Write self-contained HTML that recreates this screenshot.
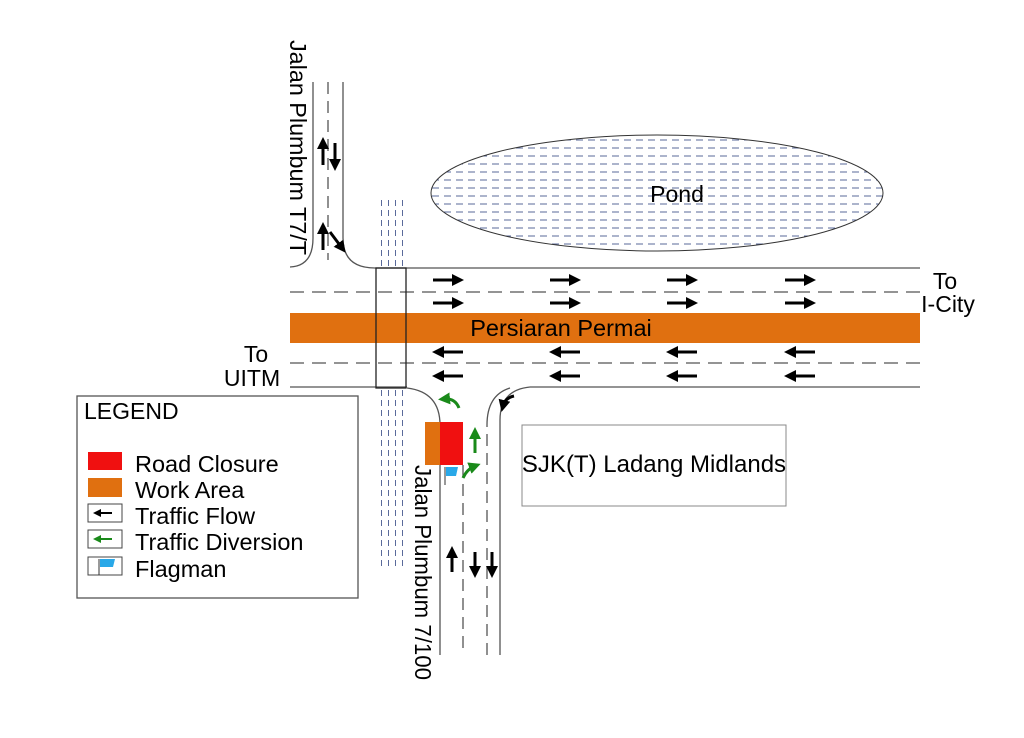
<!DOCTYPE html>
<html><head><style>body{margin:0;background:#fff}svg{display:block}text{font-family:"Liberation Sans",sans-serif}</style></head>
<body>
<svg width="1024" height="738" viewBox="0 0 1024 738" xmlns="http://www.w3.org/2000/svg">
<defs>
<pattern id="hp" width="12" height="8" patternUnits="userSpaceOnUse"><line x1="0" y1="4" x2="7" y2="4" stroke="#5a6a9a" stroke-width="1"/></pattern>
<pattern id="vp" width="7" height="10" patternUnits="userSpaceOnUse"><line x1="3.5" y1="0" x2="3.5" y2="6" stroke="#5a6a9a" stroke-width="1"/></pattern>
<marker id="ah" markerWidth="4" markerHeight="4" refX="2" refY="2" orient="auto" markerUnits="strokeWidth"><path d="M0,0 L4,2 L0,4 z" fill="#000"/></marker>
<marker id="ag" markerWidth="4" markerHeight="4" refX="2" refY="2" orient="auto" markerUnits="strokeWidth"><path d="M0,0 L4,2 L0,4 z" fill="#1a8a1a"/></marker>
</defs>
<ellipse cx="657" cy="193" rx="226" ry="58" fill="url(#hp)" stroke="#333" stroke-width="1"/>
<text x="677" y="202" font-size="23" text-anchor="middle">Pond</text>
<rect x="378" y="198" width="28" height="70" fill="url(#vp)"/>
<rect x="378" y="388" width="28" height="182" fill="url(#vp)"/>
<rect x="290" y="313" width="630" height="30" fill="#e07010"/>
<text x="561" y="336" font-size="23.5" text-anchor="middle">Persiaran Permai</text>
<g stroke="#555" stroke-width="1.3" fill="none">
<line x1="375" y1="268" x2="920" y2="268"/>
<line x1="290" y1="387" x2="407" y2="387"/>
<line x1="530" y1="387" x2="920" y2="387"/>
<line x1="290" y1="292" x2="920" y2="292" stroke-dasharray="14,8"/>
<line x1="290" y1="363" x2="920" y2="363" stroke-dasharray="14,8"/>
<path d="M313 82 V238 Q313 266 290 267"/>
<path d="M343 82 V238 Q343 268 375 268"/>
<line x1="328" y1="82" x2="328" y2="260" stroke-dasharray="12,7"/>
<path d="M407 388 Q440 392 440 425 V655"/>
<line x1="463" y1="465" x2="463" y2="655" stroke-dasharray="12,7"/>
<line x1="487" y1="655" x2="487" y2="425" stroke-dasharray="12,7"/>
<path d="M487 425 Q487 395 510 388"/>
<path d="M500 655 V420 Q500 390 530 387"/>
</g>
<rect x="376" y="268" width="30" height="120" fill="none" stroke="#222" stroke-width="1.3"/>
<g stroke="#000" stroke-width="3" marker-end="url(#ah)">
<line x1="433" y1="280" x2="458" y2="280"/><line x1="433" y1="303" x2="458" y2="303"/>
<line x1="550" y1="280" x2="575" y2="280"/><line x1="550" y1="303" x2="575" y2="303"/>
<line x1="667" y1="280" x2="692" y2="280"/><line x1="667" y1="303" x2="692" y2="303"/>
<line x1="785" y1="280" x2="810" y2="280"/><line x1="785" y1="303" x2="810" y2="303"/>
<line x1="463" y1="352" x2="438" y2="352"/><line x1="463" y1="376" x2="438" y2="376"/>
<line x1="580" y1="352" x2="555" y2="352"/><line x1="580" y1="376" x2="555" y2="376"/>
<line x1="697" y1="352" x2="672" y2="352"/><line x1="697" y1="376" x2="672" y2="376"/>
<line x1="815" y1="352" x2="790" y2="352"/><line x1="815" y1="376" x2="790" y2="376"/>
<line x1="323" y1="165" x2="323" y2="143"/><line x1="335" y1="143" x2="335" y2="165"/>
<line x1="323" y1="250" x2="323" y2="228"/><path d="M330 232 Q336 240 342 248" fill="none"/>
<line x1="452" y1="572" x2="452" y2="552"/><line x1="475" y1="552" x2="475" y2="572"/><line x1="492" y1="552" x2="492" y2="572"/>
<path d="M514 396 Q505 398 503 406" fill="none"/>
</g>
<g stroke="#1a8a1a" stroke-width="3" fill="none" marker-end="url(#ag)">
<path d="M459 408 Q455 398 444 399"/>
<line x1="475" y1="453" x2="475" y2="433"/>
<path d="M463 478 Q467 469 475 466"/>
</g>
<rect x="425" y="422" width="15" height="43" fill="#e07010"/>
<rect x="440" y="422" width="23" height="43" fill="#f01010"/>
<line x1="445" y1="467" x2="445" y2="485" stroke="#333" stroke-width="1"/>
<path d="M446 467 H458 L456 476 H446 Z" fill="#29a8e8"/>
<rect x="522" y="425" width="264" height="81" fill="none" stroke="#888" stroke-width="1"/>
<text x="654" y="472" font-size="24" text-anchor="middle">SJK(T) Ladang Midlands</text>
<text x="945" y="289" font-size="23" text-anchor="middle">To</text>
<text x="948" y="312" font-size="23" text-anchor="middle">I-City</text>
<text x="256" y="362" font-size="23" text-anchor="middle">To</text>
<text x="252" y="386" font-size="23" text-anchor="middle">UITM</text>
<text transform="translate(290,40) rotate(90)" font-size="23.5" textLength="215" lengthAdjust="spacingAndGlyphs">Jalan Plumbum T7/T</text>
<text transform="translate(415,465) rotate(90)" font-size="23.5" textLength="215" lengthAdjust="spacingAndGlyphs">Jalan Plumbum 7/100</text>
<rect x="77" y="396" width="281" height="202" fill="#fff" stroke="#555" stroke-width="1.3"/>
<text x="84" y="419" font-size="23">LEGEND</text>
<rect x="88" y="452" width="34" height="18" fill="#f01010"/>
<rect x="88" y="478" width="34" height="19" fill="#e07010"/>
<rect x="88" y="504" width="34" height="18" fill="#fff" stroke="#444"/>
<line x1="112" y1="513" x2="97" y2="513" stroke="#000" stroke-width="2" marker-end="url(#ah)"/>
<rect x="88" y="530" width="34" height="18" fill="#fff" stroke="#444"/>
<line x1="112" y1="539" x2="97" y2="539" stroke="#1a8a1a" stroke-width="2" marker-end="url(#ag)"/>
<rect x="88" y="557" width="34" height="18" fill="#fff" stroke="#444"/>
<line x1="99" y1="559" x2="99" y2="575" stroke="#333"/>
<path d="M100 559 H115 L113 567 H100 Z" fill="#29a8e8"/>
<g font-size="23.5"><text x="135" y="472">Road Closure</text><text x="135" y="498">Work Area</text><text x="135" y="524">Traffic Flow</text><text x="135" y="550">Traffic Diversion</text><text x="135" y="577">Flagman</text></g>
</svg>
</body></html>
